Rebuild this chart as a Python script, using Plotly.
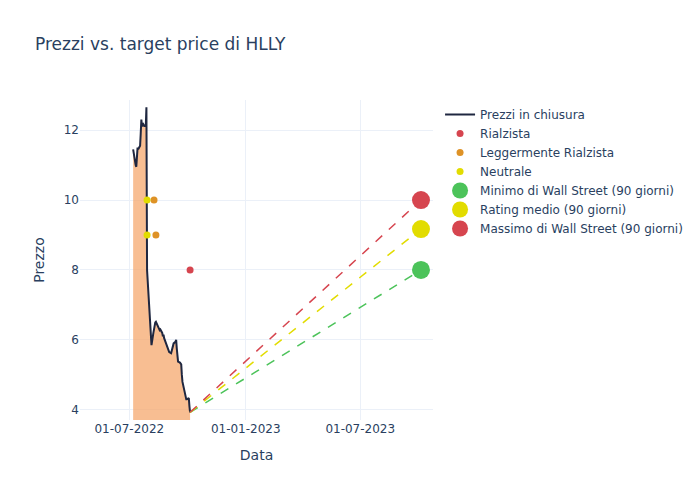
import pandas as pd
import plotly.graph_objects as go

ticker = "HLLY"
dates = pd.bdate_range("2022-07-07", "2022-10-05")
prices = [
    11.45, 11.3, 11.0, 10.95, 11.2, 11.5, 11.45, 11.55, 11.9, 12.3, 12.1, 12.2,
    12.1, 12.15, 12.1, 12.65, 8.0,
    7.2, 6.8, 6.4, 6.1, 5.85, 6.2, 6.35, 6.45, 6.5, 6.52, 6.4, 6.35, 6.3, 6.28, 6.3,
    6.2, 6.1, 6.15, 6.05, 6.0, 5.9, 5.8, 5.75,
    5.7, 5.65, 5.62, 5.7, 5.78, 5.85, 5.9, 5.95, 6.0, 5.75, 5.5, 5.38, 5.35, 5.32,
    5.3, 5.0, 4.8, 4.55, 4.45, 4.35, 4.3, 4.3,
    4.34, 4.1, 3.93,
]

bull_dates = ["2022-10-05"]
bull_vals = [8]
mbull_dates = ["2022-08-09", "2022-08-12"]
mbull_vals = [10, 9]
neutral_dates = ["2022-07-29", "2022-07-29"]
neutral_vals = [10, 9]

target_date = "2023-10-05"
target_low = 8
target_avg = 9.17
target_high = 10

fig = go.Figure()
fig.add_trace(go.Scatter(
    x=dates, y=prices, mode="none", fill="tozeroy",
    fillcolor="rgba(246,168,110,0.75)", showlegend=False, hoverinfo="skip",
))
fig.add_trace(go.Scatter(
    x=dates, y=prices, mode="lines", name="Prezzi in chiusura",
    line=dict(color="#1f2740", width=2),
))
fig.add_trace(go.Scatter(x=bull_dates, y=bull_vals, mode="markers", name="Rialzista",
                         marker=dict(color="#d6454f", size=7)))
fig.add_trace(go.Scatter(x=mbull_dates, y=mbull_vals, mode="markers", name="Leggermente Rialzista",
                         marker=dict(color="#de9226", size=7)))
fig.add_trace(go.Scatter(x=neutral_dates, y=neutral_vals, mode="markers", name="Neutrale",
                         marker=dict(color="#e2dc00", size=7)))

last_date = dates[-1]
last_price = prices[-1]
for val, col in [(target_low, "#4cc35a"), (target_avg, "#e2dc00"), (target_high, "#d6454f")]:
    fig.add_trace(go.Scatter(x=[last_date, target_date], y=[last_price, val], mode="lines",
                             line=dict(color=col, width=1.5, dash="dash"), showlegend=False))

fig.add_trace(go.Scatter(x=[target_date], y=[target_low], mode="markers",
                         name="Minimo di Wall Street (90 giorni)",
                         marker=dict(color="#4cc35a", size=18)))
fig.add_trace(go.Scatter(x=[target_date], y=[target_avg], mode="markers",
                         name="Rating medio (90 giorni)",
                         marker=dict(color="#e2dc00", size=18)))
fig.add_trace(go.Scatter(x=[target_date], y=[target_high], mode="markers",
                         name="Massimo di Wall Street (90 giorni)",
                         marker=dict(color="#d6454f", size=18)))

fig.update_layout(
    template="plotly_white",
    width=700, height=500,
    font=dict(family="DejaVu Sans"),
    title=dict(text=f"Prezzi vs. target price di {ticker}"),
    xaxis=dict(title="Data", tickformat="%d-%m-%Y", range=["2022-04-14", "2023-10-24"]),
    yaxis=dict(title="Prezzo", range=[3.71, 12.86]),
)
fig.write_html("out.html", config={"displayModeBar": False},
               post_script="document.body.style.margin='0';")
